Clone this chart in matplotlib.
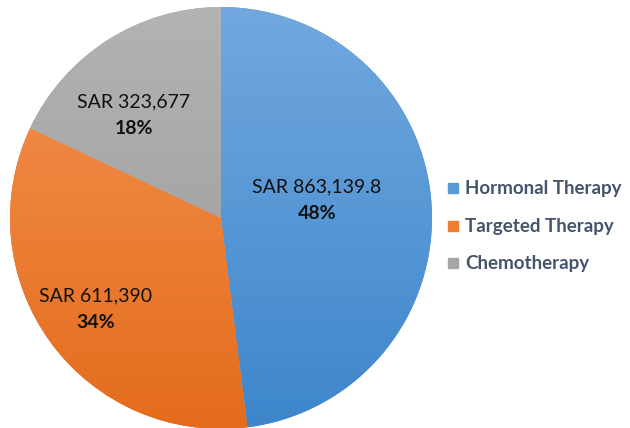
import numpy as np
import matplotlib
matplotlib.use("Agg")
import matplotlib.pyplot as plt
from matplotlib.colors import LinearSegmentedColormap

categories = ["Hormonal Therapy", "Targeted Therapy", "Chemotherapy"]
values = [863139.8, 611390, 323677]
value_labels = ["SAR 863,139.8", "SAR 611,390", "SAR 323,677"]

grad_top = ["#72A8DF", "#F49352", "#B3B3B3"]
grad_bot = ["#3D86CB", "#E46C1C", "#999999"]
legend_cols = ["#5B9BD5", "#ED7D31", "#A5A5A5"]

plt.rcParams['font.family'] = ['Lato', 'DejaVu Sans']

fig = plt.figure(figsize=(6.3, 4.28), dpi=100)
R = 211
cx, cy = 221, 428 - 218
ax = fig.add_axes([0, 0, 1, 1])

wedges, _ = ax.pie(values, startangle=90, counterclock=False, radius=R,
                   center=(cx, cy), colors=legend_cols,
                   wedgeprops=dict(linewidth=0), frame=True)
ax.set_xlim(0, 630)
ax.set_ylim(0, 428)
ax.set_aspect('equal')
ax.axis('off')

grad = np.linspace(0, 1, 256).reshape(-1, 1)
for w, t, b in zip(wedges, grad_top, grad_bot):
    cmap = LinearSegmentedColormap.from_list("g", [b, t])
    im = ax.imshow(grad, cmap=cmap, origin='lower', aspect='auto',
                   extent=[cx - R, cx + R, cy - R, cy + R], zorder=1.5)
    im.set_clip_path(w)

total = sum(values)
# label anchor offsets from pie centre (pixels, layout only)
label_off = [(96, 18), (-125, -91), (-87, 103)]
for v, lab, (dx, dy) in zip(values, value_labels, label_off):
    x = cx + dx
    y = cy + dy
    ax.text(x, y + 13.5, lab, ha='center', va='center', fontsize=14,
            color='#111111', zorder=3)
    ax.text(x, y - 13.5, f"{v / total * 100:.0f}%", ha='center', va='center',
            fontsize=14, fontweight='bold', color='#111111', zorder=3)

# legend
ys = [428 - 188, 428 - 226, 428 - 263]
for c, name, yy in zip(legend_cols, categories, ys):
    ax.add_patch(plt.Rectangle((448, yy - 5), 10, 10, color=c, zorder=3))
    ax.text(465, yy, name, ha='left', va='center', fontsize=13.5,
            fontweight='bold', color='#44546A', zorder=3)

fig.savefig("out.png", dpi=100)
